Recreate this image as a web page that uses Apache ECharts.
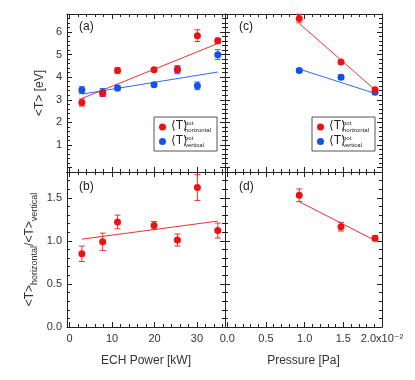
<!DOCTYPE html>
<html><head><meta charset="utf-8">
<script src="https://cdn.jsdelivr.net/npm/echarts@6/dist/echarts.min.js"></script>
<style>html,body{margin:0;padding:0;background:#fff}#c{width:415px;height:380px}</style>
</head><body><div id="c"></div>
<script>
// ---- data ----
const powerKW        = [2.9, 7.8, 11.3, 19.9, 25.4, 30.1, 34.9];
const tHorizPower    = [2.88, 3.28, 4.30, 4.33, 4.35, 5.84, 5.61];
const tHorizPowerErr = [0.16, 0.13, 0.12, 0.07, 0.15, 0.26, 0.12];
const tVertPower     = [3.43, 3.33, 3.52, 3.67, 4.33, 3.62, 5.00];
const tVertPowerErr  = [0.15, 0.17, 0.12, 0.08, 0.18, 0.17, 0.22];
const ratioPower     = [0.85, 0.99, 1.22, 1.18, 1.01, 1.62, 1.12];
const ratioPowerErr  = [0.09, 0.10, 0.08, 0.045, 0.07, 0.15, 0.087];
const fitHorizPower  = [[2.9, 3.06], [34.9, 5.49]];
const fitVertPower   = [[2.9, 3.25], [34.9, 4.23]];
const fitRatioPower  = [[2.9, 1.02], [34.9, 1.23]];

const pressure       = [0.93, 1.47, 1.91];   // x10^-2 Pa
const tHorizP        = [6.60, 4.67, 3.44];
const tHorizPErr     = [0.19, 0.05, 0.07];
const tVertP         = [4.30, 4.00, 3.33];
const tVertPErr      = [0.08, 0.10, 0.05];
const ratioP         = [1.53, 1.165, 1.03];
const ratioPErr      = [0.073, 0.05, 0.03];
const fitHorizP      = [[0.93, 6.38], [1.92, 3.41]];
const fitVertP       = [[0.93, 4.36], [1.92, 3.27]];
const fitRatioP      = [[0.93, 1.455], [1.92, 1.00]];

const panelLabels = ['(a)', '(b)', '(c)', '(d)'];

// ---- styling ----
const FONT = "'Liberation Sans', Arial, 'DejaVu Sans', sans-serif";
const RED = '#ee1111', BLUE = '#1450f0';
const RED_L = '#f03030', BLUE_L = '#3468f0';
const INK = '#222';

const chart = echarts.init(document.getElementById('c'));

const grids = [
  {left: 67,  top: 14,  width: 158, height: 158},
  {left: 67,  top: 172, width: 158, height: 155},
  {left: 225, top: 14,  width: 157, height: 158},
  {left: 225, top: 172, width: 157, height: 155}
];

const powerRange = {min: -0.6, max: 36.6};
const pressRange = {min: -0.03, max: 2.0};
const yTopRange  = {min: -0.2, max: 6.8};
const yBotRange  = {min: 0, max: 1.8, interval: 0.5};

function ax(extra) {
  return Object.assign({
    type: 'value',
    axisLine: {show: true, onZero: false, lineStyle: {color: INK, width: 1}},
    axisTick: {show: true, inside: true, interval: 0, length: 5, lineStyle: {color: INK, width: 1}},
    minorTick: {show: true, splitNumber: 5, length: 3, lineStyle: {color: INK, width: 1}},
    splitLine: {show: false},
    axisLabel: {show: false}
  }, extra);
}
const lab = (extra) => Object.assign({show: true, fontSize: 11, color: '#333', fontFamily: FONT,
  showMinLabel: false, showMaxLabel: false}, extra);

const xAxes = [], yAxes = [];
// grid 0 (a)
xAxes.push(ax(Object.assign({gridIndex: 0, position: 'bottom'}, powerRange)));
xAxes.push(ax(Object.assign({gridIndex: 0, position: 'top'}, powerRange)));
yAxes.push(ax(Object.assign({gridIndex: 0, position: 'left',
  axisLabel: lab({margin: 5, formatter: v => v === 0 ? '' : String(v)}),
  name: '<T> [eV]', nameLocation: 'middle', nameGap: 21,
  nameTextStyle: {fontSize: 12, color: '#333', fontFamily: FONT}}, yTopRange)));
yAxes.push(ax(Object.assign({gridIndex: 0, position: 'right'}, yTopRange)));
// grid 1 (b)
xAxes.push(ax(Object.assign({gridIndex: 1, position: 'bottom',
  axisLabel: lab({margin: 6}),
  name: 'ECH Power [kW]', nameLocation: 'middle', nameGap: 28,
  nameTextStyle: {fontSize: 12, color: '#333', fontFamily: FONT}}, powerRange)));
xAxes.push(ax(Object.assign({gridIndex: 1, position: 'top'}, powerRange)));
yAxes.push(ax(Object.assign({gridIndex: 1, position: 'left',
  axisLabel: lab({margin: 5, showMinLabel: true, formatter: v => v.toFixed(1)}),
  name: '<T>{sub|horizontal}/<T>{sub|vertical}', nameLocation: 'middle', nameGap: 28,
  nameTextStyle: {fontSize: 12, color: '#333', fontFamily: FONT,
    rich: {sub: {fontSize: 9, color: '#333', fontFamily: FONT, lineHeight: 18, verticalAlign: 'bottom'}}}}, yBotRange)));
yAxes.push(ax(Object.assign({gridIndex: 1, position: 'right'}, yBotRange)));
// grid 2 (c)
xAxes.push(ax(Object.assign({gridIndex: 2, position: 'bottom'}, pressRange)));
xAxes.push(ax(Object.assign({gridIndex: 2, position: 'top'}, pressRange)));
yAxes.push(ax(Object.assign({gridIndex: 2, position: 'left'}, yTopRange)));
yAxes.push(ax(Object.assign({gridIndex: 2, position: 'right'}, yTopRange)));
// grid 3 (d)
xAxes.push(ax(Object.assign({gridIndex: 3, position: 'bottom',
  axisLabel: lab({margin: 6, showMaxLabel: true,
    formatter: v => Math.abs(v - 2) < 1e-9 ? '2.0x10\u207B\u00B2' : v.toFixed(1)}),
  name: 'Pressure [Pa]', nameLocation: 'middle', nameGap: 28,
  nameTextStyle: {fontSize: 12, color: '#333', fontFamily: FONT}}, pressRange)));
xAxes.push(ax(Object.assign({gridIndex: 3, position: 'top'}, pressRange)));
yAxes.push(ax(Object.assign({gridIndex: 3, position: 'left'}, yBotRange)));
yAxes.push(ax(Object.assign({gridIndex: 3, position: 'right'}, yBotRange)));

function zip(xs, ys) { return xs.map((x, i) => [x, ys[i]]); }

function fitLine(data, g, color) {
  return {type: 'line', xAxisIndex: 2 * g, yAxisIndex: 2 * g, data, symbol: 'none',
    lineStyle: {color, width: 1}, z: 2, silent: true};
}
function points(name, xs, ys, g, color) {
  return {type: 'scatter', name, xAxisIndex: 2 * g, yAxisIndex: 2 * g, data: zip(xs, ys),
    symbol: 'circle', symbolSize: 7, itemStyle: {color, opacity: 1}, z: 5};
}
function errBars(xs, ys, es, g, color) {
  return {type: 'custom', name: 'err', xAxisIndex: 2 * g, yAxisIndex: 2 * g,
    data: xs.map((x, i) => [x, ys[i] - es[i], ys[i] + es[i]]),
    encode: {x: 0, y: [1, 2]}, z: 4, silent: true,
    renderItem: (params, api) => {
      const x = api.value(0);
      const lo = api.coord([x, api.value(1)]);
      const hi = api.coord([x, api.value(2)]);
      const w = 3, st = {stroke: color, lineWidth: 1};
      return {type: 'group', children: [
        {type: 'line', shape: {x1: lo[0], y1: lo[1], x2: hi[0], y2: hi[1]}, style: st},
        {type: 'line', shape: {x1: lo[0] - w, y1: lo[1], x2: lo[0] + w, y2: lo[1]}, style: st},
        {type: 'line', shape: {x1: hi[0] - w, y1: hi[1], x2: hi[0] + w, y2: hi[1]}, style: st}
      ]};
    }};
}

const series = [
  fitLine(fitHorizPower, 0, RED_L), fitLine(fitVertPower, 0, BLUE_L),
  errBars(powerKW, tHorizPower, tHorizPowerErr, 0, RED_L),
  errBars(powerKW, tVertPower, tVertPowerErr, 0, BLUE_L),
  points('vertical', powerKW, tVertPower, 0, BLUE),
  points('horizontal', powerKW, tHorizPower, 0, RED),

  fitLine(fitRatioPower, 1, RED_L),
  errBars(powerKW, ratioPower, ratioPowerErr, 1, RED_L),
  points('ratio', powerKW, ratioPower, 1, RED),

  fitLine(fitHorizP, 2, RED_L), fitLine(fitVertP, 2, BLUE_L),
  errBars(pressure, tHorizP, tHorizPErr, 2, RED_L),
  errBars(pressure, tVertP, tVertPErr, 2, BLUE_L),
  points('vertical', pressure, tVertP, 2, BLUE),
  points('horizontal', pressure, tHorizP, 2, RED),

  fitLine(fitRatioP, 3, RED_L),
  errBars(pressure, ratioP, ratioPErr, 3, RED_L),
  points('ratio', pressure, ratioP, 3, RED)
];

function legendCfg(left) {
  return {orient: 'vertical', left, top: 117, itemWidth: 7, itemHeight: 7, itemGap: 1,
    icon: 'circle', padding: [3, 6, 3, 5], borderColor: '#555', borderWidth: 1,
    selectedMode: false, data: ['horizontal', 'vertical'],
    formatter: n => '{t|⟨T⟩}{s|hot}\n{p| }{s|' + n + '}',
    textStyle: {fontFamily: FONT, color: INK,
      rich: {
        t: {fontSize: 12, lineHeight: 7, verticalAlign: 'top', width: 14, fontFamily: FONT, color: INK},
        s: {fontSize: 6, lineHeight: 7, fontFamily: FONT, color: INK},
        p: {fontSize: 6, width: 14, lineHeight: 7}
      }}};
}

const labelPos = [[79, 21], [79, 181], [239, 21], [239, 181]];

chart.setOption({
  animation: false,
  backgroundColor: '#fff',
  grid: grids,
  xAxis: xAxes,
  yAxis: yAxes,
  legend: [legendCfg(154), legendCfg(312)],
  graphic: panelLabels.map((t, i) => ({type: 'text', left: labelPos[i][0], top: labelPos[i][1],
    style: {text: t, font: '12px ' + FONT, fill: INK}})),
  series
});
</script>
</body></html>
